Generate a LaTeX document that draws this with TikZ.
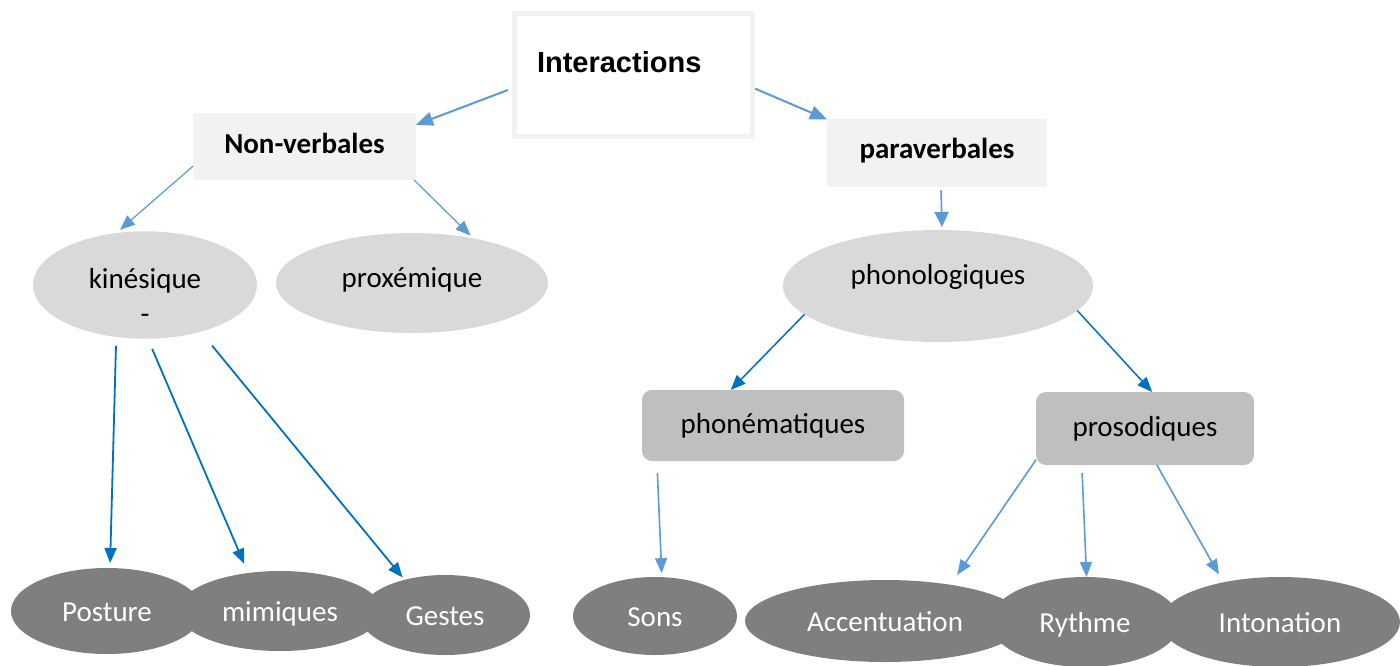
\documentclass[tikz,border=0pt]{standalone}
\usepackage{fontspec}
\setmainfont{Carlito}
\newfontfamily\arialfont{Liberation Sans}
\usetikzlibrary{shapes.geometric,arrows.meta}
\definecolor{boxgray}{HTML}{F2F2F2}
\definecolor{ovalgray}{HTML}{D9D9D9}
\definecolor{roundgray}{HTML}{BFBFBF}
\definecolor{leafgray}{HTML}{7F7F7F}
\definecolor{lightblue}{HTML}{5B9BD5}
\definecolor{deepblue}{HTML}{0070C0}
\begin{document}
\begin{tikzpicture}[x=1pt,y=-1pt,
  every node/.style={font=\fontsize{29}{35}\selectfont,inner sep=0pt,outer sep=0pt},
  >={Triangle[length=15pt,width=12pt]},
  headbox/.style={fill=boxgray,minimum width=223,minimum height=67,text height=20pt,text depth=7pt,font=\fontsize{29}{35}\selectfont\bfseries},
  oval/.style={ellipse,fill=ovalgray,text height=20pt,text depth=0pt},
  subbox/.style={fill=roundgray,rounded corners=10pt,text height=20pt,text depth=4pt},
  leaf/.style={ellipse,fill=leafgray,text=white,text height=20pt,text depth=0pt},
  toplink/.style={->,draw=lightblue,fill=lightblue,line width=2pt},
  sublink/.style={->,draw=lightblue,fill=lightblue,line width=1.2pt},
  phonlink/.style={->,draw=deepblue,fill=deepblue,line width=1.5pt},
  kinlink/.style={->,draw=deepblue,fill=deepblue,line width=1.8pt},
  leaflink/.style={->,draw=lightblue,fill=lightblue,line width=1.6pt}]
\useasboundingbox (0,0) rectangle (1400,665);
\clip (0,0) rectangle (1400,665);
% top of the tree
\node[draw=boxgray,line width=5pt,text width=193pt,align=left,inner xsep=22.5pt,
  text height=58.5pt,text depth=64.5pt,font=\arialfont\bfseries\fontsize{29}{35}\selectfont]
  (inter) at (633.5,75) {Interactions};
\node[headbox] (nonv) at (304.5,146.5) {Non-verbales};
\node[headbox,minimum width=220,minimum height=68,text depth=10pt] (para) at (937,153) {paraverbales};
% second level
\node[oval,minimum width=224,minimum height=104,align=center,text height=76pt,text depth=0pt] (kin) at (145,285) {kinésique\\-};
\node[oval,minimum width=272,minimum height=100,text depth=12pt] (prox) at (412,283) {proxémique};
\node[oval,minimum width=310,minimum height=112,text depth=24pt] (phono) at (938,286) {phonologiques};
\node[subbox,minimum width=262,minimum height=71] (phonem) at (773,425.5) {phonématiques};
\node[subbox,minimum width=218,minimum height=73] (proso) at (1145,428.5) {prosodiques};
% leaves
\node[leaf,minimum width=192,minimum height=86] (post) at (107,611) {Posture};
\node[leaf,minimum width=204,minimum height=80] (mim) at (280,611) {mimiques};
\node[leaf,minimum width=170,minimum height=80] (gest) at (445,615) {Gestes};
\node[leaf,minimum width=164,minimum height=78] (sons) at (655,616) {Sons};
\node[leaf,minimum width=280,minimum height=82] (accent) at (885,621) {Accentuation};
\node[leaf,minimum width=190,minimum height=90] (ryth) at (1085,622) {Rythme};
\node[leaf,minimum width=240,minimum height=90] (inton) at (1280,622) {Intonation};
% arrows
\draw[toplink,>={Triangle[length=17pt,width=14pt]},shorten <=7pt] (inter.186) -- (nonv.11);
\draw[toplink,>={Triangle[length=17pt,width=14pt]},shorten <=3pt] (inter.-6) -- (para.163);
\draw[sublink,shorten >=5pt] (nonv.190) -- (kin.119);
\draw[sublink,shorten >=4pt] (nonv.-17) -- (prox.36);
\draw[leaflink,>={Triangle[length=15pt,width=14pt]},shorten <=3pt,shorten >=3pt] ([xshift=4pt]para.south) -- ([xshift=4pt]phono.north);
\draw[phonlink] (phono.192) -- (phonem.140);
\draw[phonlink] (phono.-10) -- (proso.79);
\draw[kinlink,shorten <=9pt,shorten >=5pt] (kin.241) -- (post.86);
\draw[kinlink,shorten <=11pt,shorten >=10pt] (kin.-87) -- (mim.130);
\draw[kinlink,shorten <=18pt,shorten >=3pt] (kin.-40) -- (gest.139);
\draw[leaflink,shorten <=12pt,shorten >=4pt] (phonem.197) -- (sons.80);
\draw[leaflink,shorten >=12pt] (proso.196) -- (accent.29);
\draw[leaflink,shorten <=8pt] (proso.210) -- (ryth.88);
\draw[leaflink,shorten >=9pt] (proso.-72) -- (inton.145);
\end{tikzpicture}
\end{document}
